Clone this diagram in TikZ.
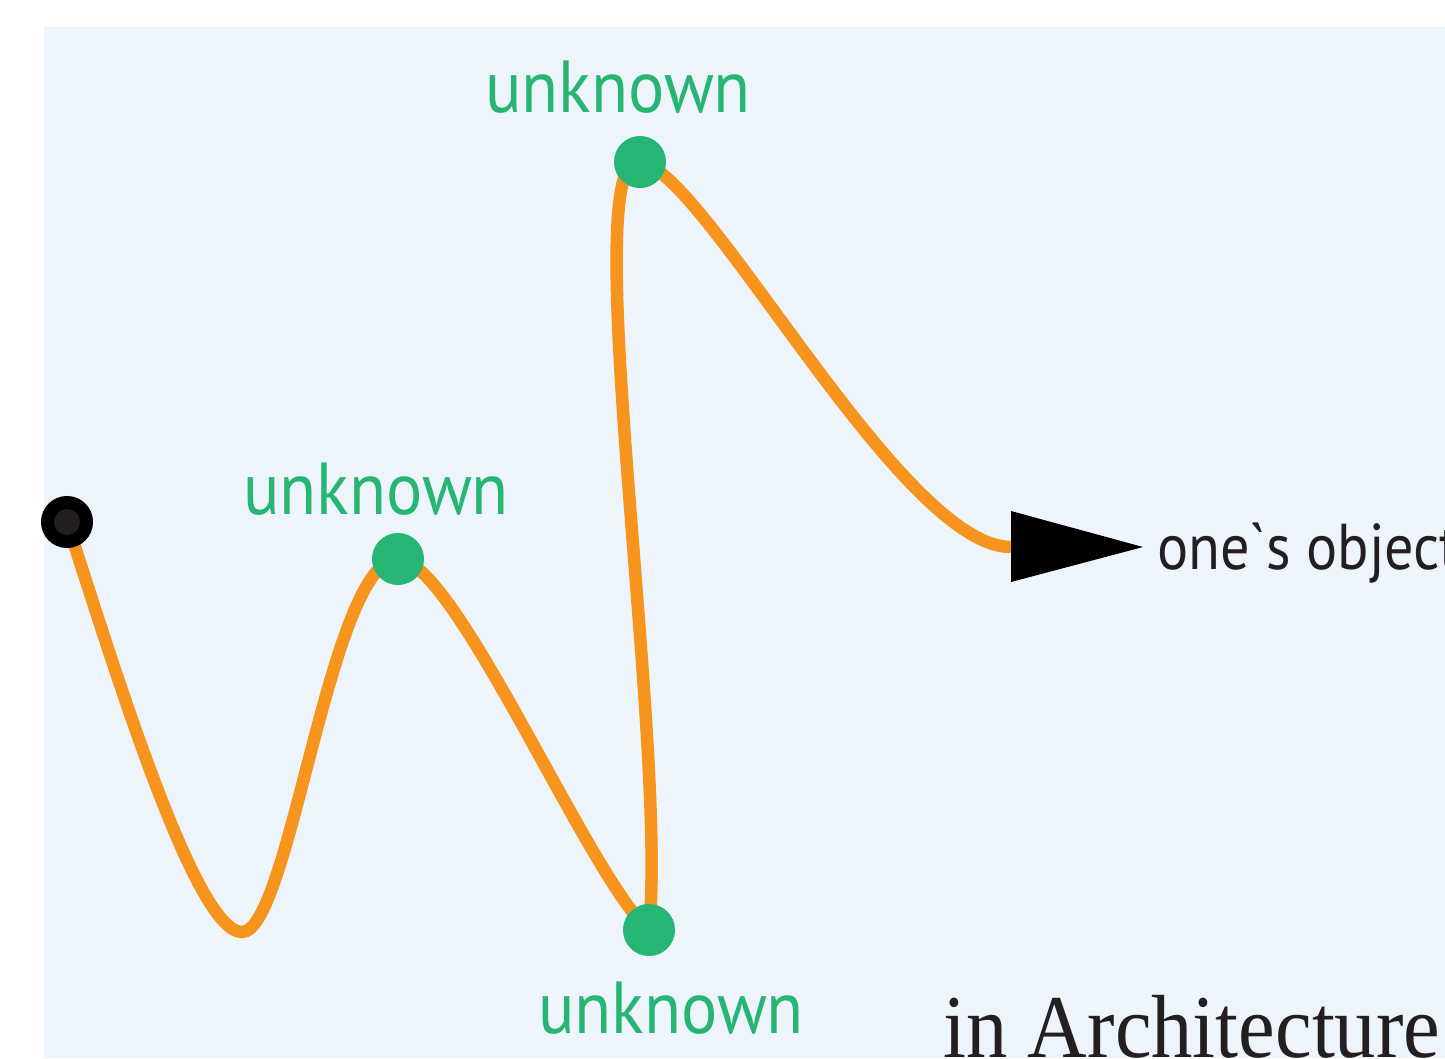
\documentclass[tikz,border=0pt]{standalone}
\usepackage{fontspec}
\setmainfont{Liberation Serif}
\newfontfamily\labfont{PT Sans}
\definecolor{bgblue}{HTML}{EDF4FB}
\definecolor{orng}{HTML}{F7941D}
\definecolor{grn}{HTML}{26B573}
\definecolor{ink}{HTML}{231F20}
\pgfdeclarelayer{bgrect}
\pgfdeclarelayer{curve}
\pgfsetlayers{bgrect,curve,main}
\tikzset{
  dot/.style={circle, fill=grn, minimum size=52bp, inner sep=0pt},
  startdot/.style={circle, fill=ink, draw=black, line width=13bp, minimum size=39bp, inner sep=0pt},
  wire/.style={draw=orng, line width=12.5bp},
  greenlabel/.style={anchor=base west, inner sep=0pt, text=grn, font=\labfont\fontsize{74}{80}\selectfont, xscale=0.92},
  objlabel/.style={anchor=base west, inner sep=0pt, text=ink, font=\labfont\fontsize{65}{70}\selectfont, xscale=0.9},
  archlabel/.style={anchor=base west, inner sep=0pt, text=ink, font=\fontsize{90}{96}\selectfont, xscale=0.92},
}
\begin{document}
\begin{tikzpicture}[x=1bp,y=-1bp]
\useasboundingbox (0,0) rectangle (1445,1058);
\begin{pgfonlayer}{bgrect}
  \fill[bgblue] (44,27) rectangle (1445,1058);
\end{pgfonlayer}
% points
\node[startdot] (s) at (67,522) {};
\node[dot] (m) at (398,559) {};
\node[dot] (b) at (649,930) {};
\node[dot] (t) at (640,162) {};
\coordinate (trough) at (242,932);
\coordinate (tail) at (1011,547);
\coordinate (tip) at (1143,547);
% curve
\begin{pgfonlayer}{curve}
\draw[wire] (s.center) .. controls (115,670) and (195,932) .. (trough)
  .. controls (290,932) and (330,559) .. (m.center)
  .. controls (455,559) and (590,880) .. (b.center)
  .. controls (668,740) and (575,150) .. (t.center)
  .. controls (705,170) and (900,547) .. (tail);
\end{pgfonlayer}
% arrowhead
\fill[black] (tail) ++(0,-36) -- (tip) -- ([yshift=-35bp]tail) -- cycle;
% labels
\node[greenlabel] (lt) at (485,112) {unknown};
\node[greenlabel] (lm) at (243,514) {unknown};
\node[greenlabel] (lb) at (538,1033) {unknown};
\node[objlabel] (obj) at (1157,569) {one\textasciigrave s object};
\node[archlabel] (arch) at (943,1057) {in Architecture};
\end{tikzpicture}
\end{document}
